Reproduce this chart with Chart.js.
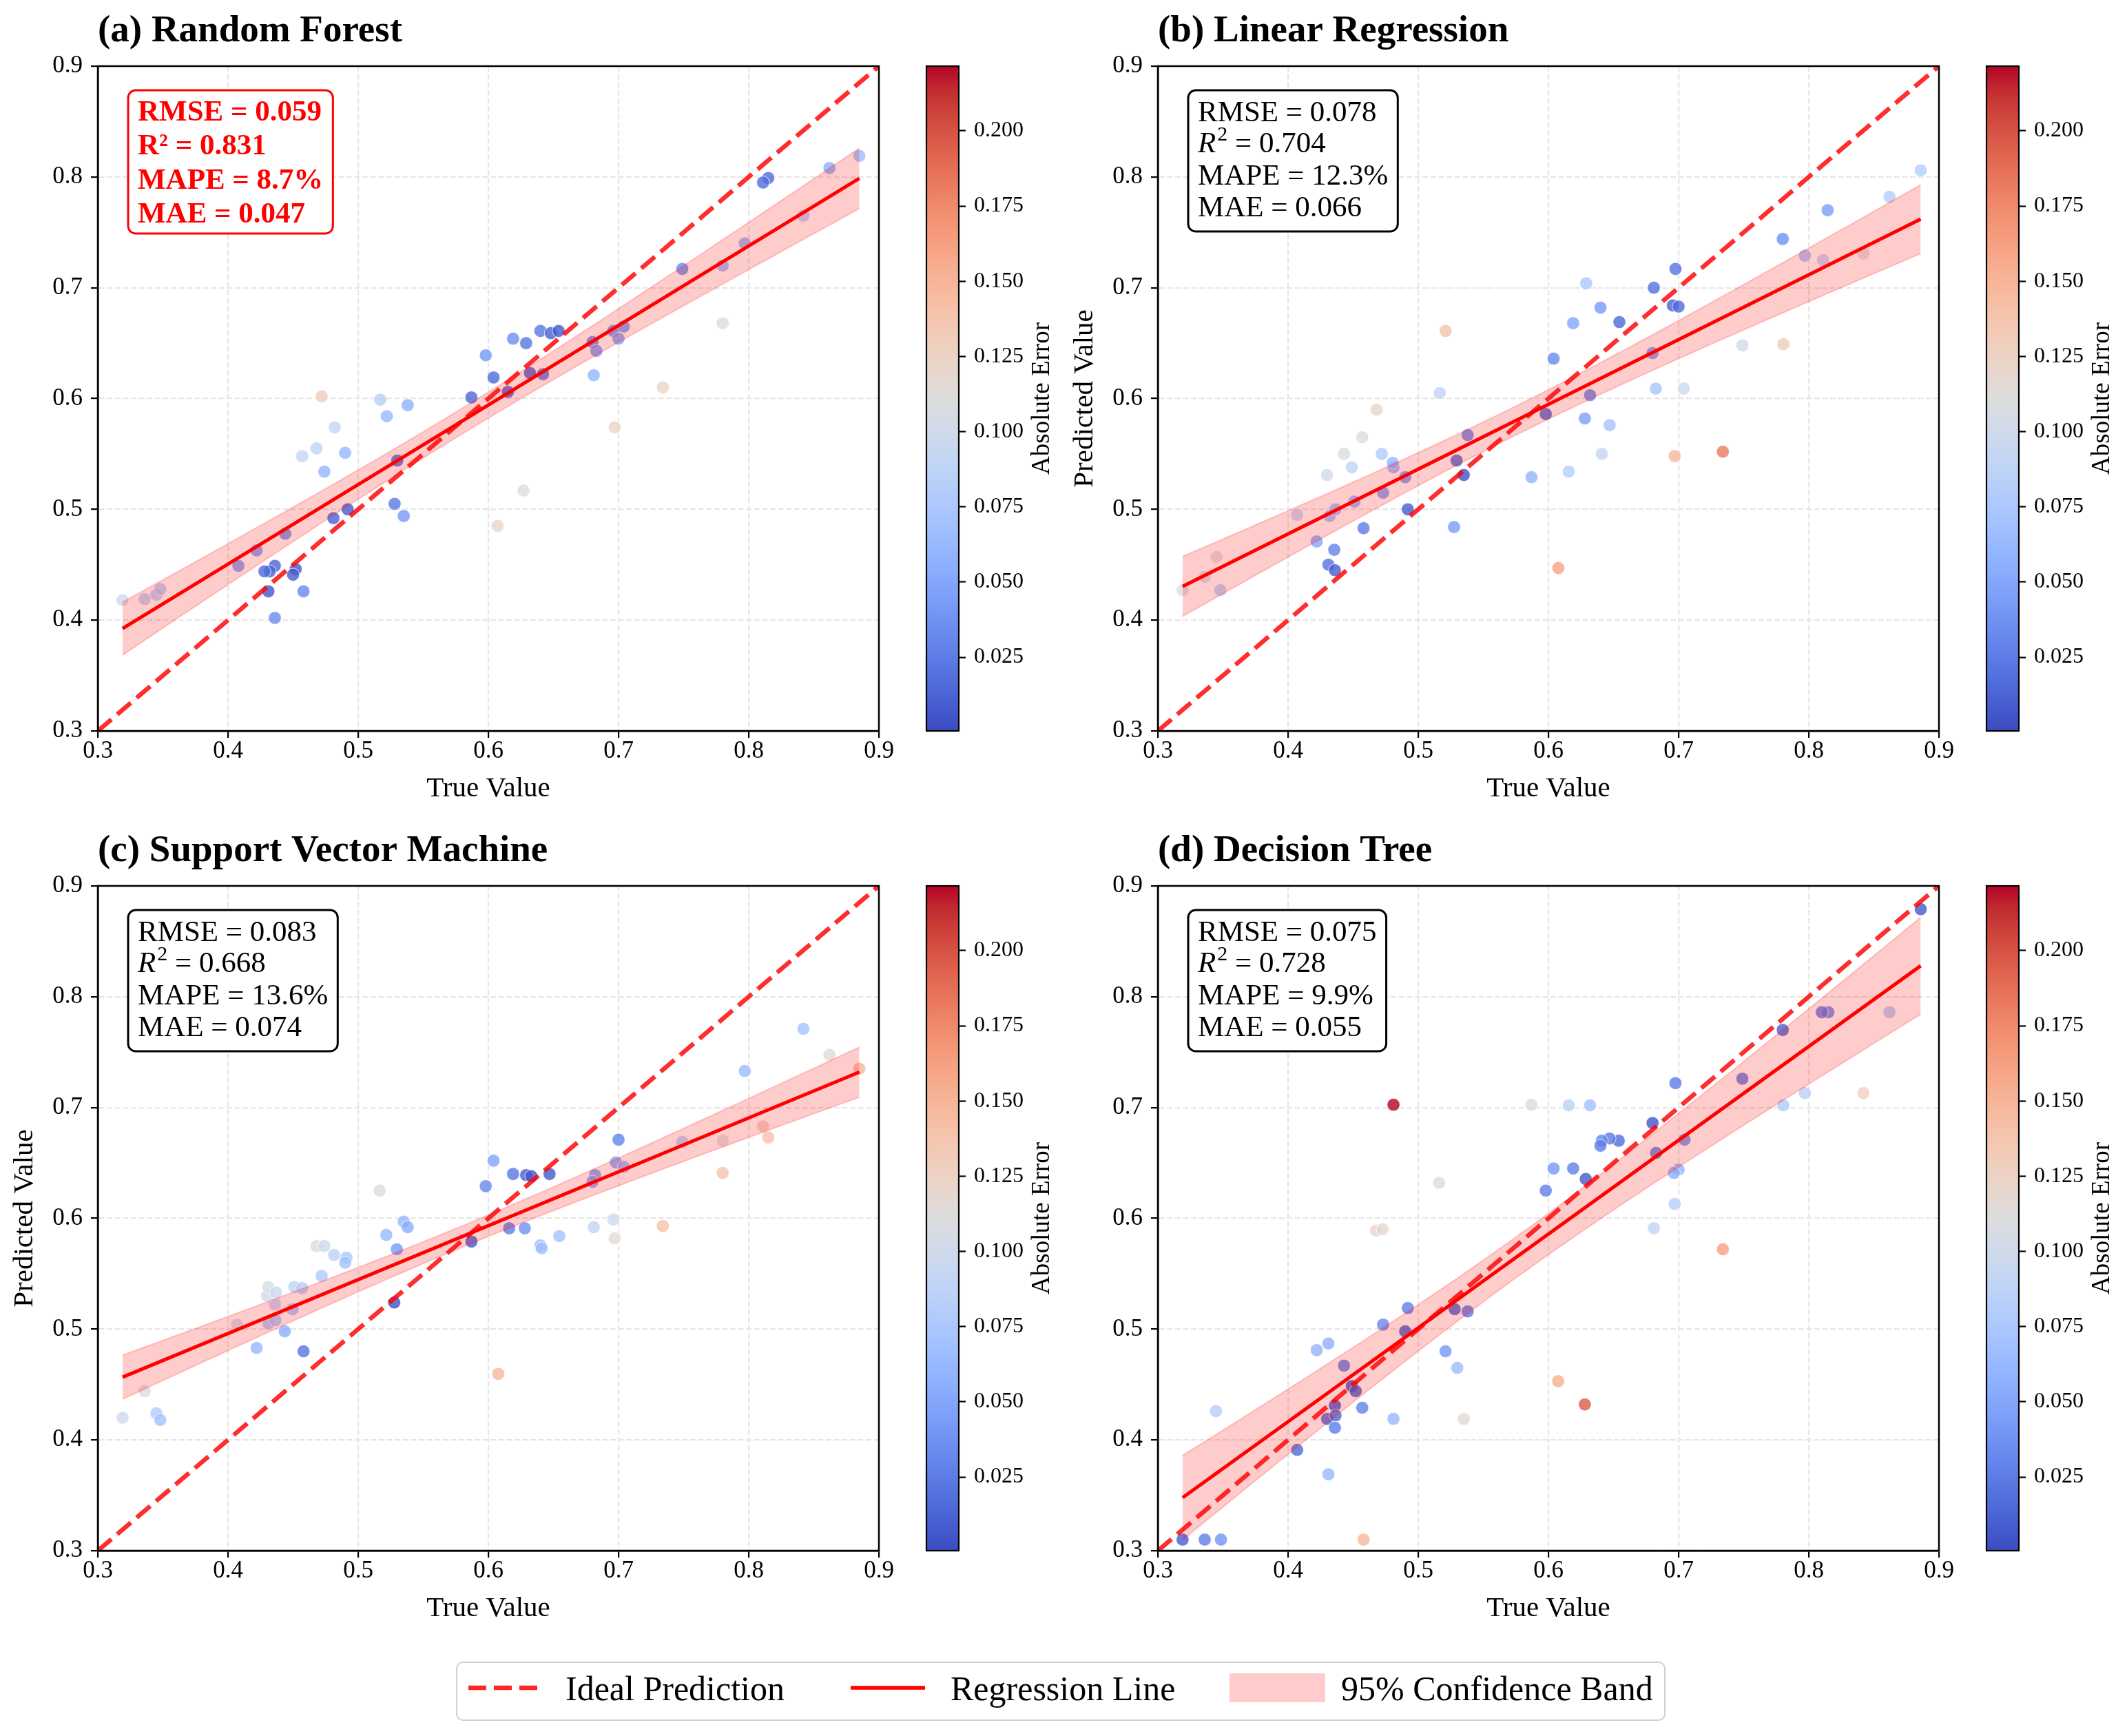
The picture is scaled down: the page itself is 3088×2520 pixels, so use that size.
<!DOCTYPE html>
<html>
<head>
<meta charset="utf-8">
<script src="https://cdn.jsdelivr.net/npm/chart.js@4.4.0/dist/chart.umd.min.js"></script>
<style>
  html, body { margin: 0; padding: 0; background: #fff; }
  #page { position: relative; width: 3088px; height: 2520px; background: #fff; overflow: hidden;
          font-family: "Liberation Serif", "Times New Roman", serif; }
  canvas { position: absolute; }
  #legendBox { position: absolute; left: 662px; top: 2412px; width: 1756px; height: 86px; box-sizing: border-box;
               border: 2.5px solid #d0d0d0; border-radius: 10px; background: #fff; }
  .ltext { position: absolute; top: 2426px; font-size: 50px; line-height: 50px; color: #000; white-space: nowrap; }
  .lsvg { position: absolute; }
</style>
</head>
<body>
<div id="page">
  <canvas id="panelA" width="1330" height="1230" style="left:0px;top:0px;width:1330px;height:1230px"></canvas>
  <canvas id="cbarA" width="220" height="1230" style="left:1330px;top:0px;width:220px;height:1230px"></canvas>
  <canvas id="panelB" width="1330" height="1230" style="left:1539px;top:0px;width:1330px;height:1230px"></canvas>
  <canvas id="cbarB" width="220" height="1230" style="left:2869px;top:0px;width:220px;height:1230px"></canvas>
  <canvas id="panelC" width="1330" height="1230" style="left:0px;top:1190px;width:1330px;height:1230px"></canvas>
  <canvas id="cbarC" width="220" height="1230" style="left:1330px;top:1190px;width:220px;height:1230px"></canvas>
  <canvas id="panelD" width="1330" height="1230" style="left:1539px;top:1190px;width:1330px;height:1230px"></canvas>
  <canvas id="cbarD" width="220" height="1230" style="left:2869px;top:1190px;width:220px;height:1230px"></canvas>

  <div id="legendBox"></div>
  <svg class="lsvg" style="left:680px;top:2440px" width="102" height="20">
    <line x1="0" y1="10" x2="102" y2="10" stroke="rgba(255,0,0,0.85)" stroke-width="6.5" stroke-dasharray="26 11"/>
  </svg>
  <div class="ltext" id="lt0" style="left:821px"></div>
  <svg class="lsvg" style="left:1235px;top:2440px" width="108" height="20">
    <line x1="0" y1="10" x2="108" y2="10" stroke="#ff0000" stroke-width="5.5"/>
  </svg>
  <div class="ltext" id="lt1" style="left:1380px"></div>
  <svg class="lsvg" style="left:1785px;top:2429px" width="139" height="42">
    <rect x="0" y="0" width="139" height="42" fill="rgba(255,0,0,0.2)"/>
  </svg>
  <div class="ltext" id="lt2" style="left:1947px"></div>
</div>

<script>
// ---------------- DATA ----------------
const axisTicks = [0.3, 0.4, 0.5, 0.6, 0.7, 0.8, 0.9];
const colorbarTicks = [0.025, 0.050, 0.075, 0.100, 0.125, 0.150, 0.175, 0.200];
const panelTitles = ['(a) Random Forest', '(b) Linear Regression', '(c) Support Vector Machine', '(d) Decision Tree'];
const legendLabels = ['Ideal Prediction', 'Regression Line', '95% Confidence Band'];
const xAxisLabel = 'True Value';
const yAxisLabel = 'Predicted Value';
const colorbarLabel = 'Absolute Error';

const statsRF  = ['RMSE = 0.059', 'R² = 0.831', 'MAPE = 8.7%',  'MAE = 0.047'];
const statsLR  = ['RMSE = 0.078', 'R² = 0.704', 'MAPE = 12.3%', 'MAE = 0.066'];
const statsSVM = ['RMSE = 0.083', 'R² = 0.668', 'MAPE = 13.6%', 'MAE = 0.074'];
const statsDT  = ['RMSE = 0.075', 'R² = 0.728', 'MAPE = 9.9%',  'MAE = 0.055'];

const trueRF = [0.319,0.336,0.345,0.348,0.408,0.422,0.444,0.436,0.432,0.428,0.452,0.450,0.431,0.458,0.436,0.481,0.492,0.530,0.528,0.535,0.472,0.517,0.538,0.522,0.482,0.468,0.457,0.490,0.474,0.598,0.604,0.587,0.615,0.607,0.627,0.885,0.862,0.815,0.811,0.842,0.797,0.780,0.749,0.780,0.734,0.697,0.681,0.680,0.683,0.696,0.704,0.700,0.640,0.648,0.654,0.619,0.629,0.632,0.642];
const predRF = [0.418,0.419,0.423,0.428,0.449,0.463,0.478,0.449,0.444,0.444,0.446,0.441,0.426,0.426,0.402,0.492,0.500,0.544,0.505,0.494,0.602,0.599,0.594,0.584,0.574,0.555,0.548,0.551,0.534,0.639,0.619,0.601,0.606,0.485,0.517,0.819,0.808,0.799,0.795,0.765,0.740,0.720,0.717,0.668,0.610,0.574,0.621,0.651,0.643,0.661,0.665,0.654,0.661,0.659,0.661,0.654,0.650,0.623,0.622];

const trueLR = [0.319,0.336,0.345,0.348,0.407,0.422,0.432,0.4365,0.4355,0.431,0.436,0.451,0.458,0.473,0.490,0.481,0.4805,0.492,0.472,0.449,0.443,0.457,0.430,0.468,0.521,0.5165,0.538,0.5295,0.535,0.5275,0.587,0.598,0.886,0.862,0.8145,0.842,0.811,0.797,0.780,0.7805,0.749,0.734,0.697,0.704,0.6825,0.680,0.681,0.6976,0.6956,0.700,0.6545,0.640,0.629,0.619,0.604,0.632,0.628,0.647,0.641,0.6156,0.6076];
const predLR = [0.427,0.439,0.457,0.427,0.495,0.471,0.494,0.500,0.4635,0.450,0.445,0.507,0.483,0.515,0.529,0.538,0.542,0.500,0.550,0.538,0.550,0.565,0.531,0.590,0.661,0.605,0.567,0.544,0.531,0.484,0.529,0.586,0.806,0.782,0.770,0.731,0.725,0.729,0.744,0.649,0.648,0.552,0.548,0.609,0.609,0.641,0.700,0.717,0.684,0.683,0.669,0.682,0.704,0.668,0.636,0.603,0.582,0.576,0.550,0.534,0.447];

const trueSVM = [0.319,0.336,0.345,0.348,0.407,0.422,0.431,0.4365,0.436,0.430,0.431,0.437,0.4436,0.4496,0.451,0.457,0.458,0.468,0.474,0.4815,0.491,0.490,0.472,0.5165,0.5216,0.535,0.538,0.5297,0.5277,0.587,0.598,0.885,0.862,0.842,0.797,0.811,0.815,0.780,0.780,0.749,0.734,0.700,0.698,0.704,0.682,0.680,0.696,0.697,0.681,0.6545,0.640,0.641,0.628,0.616,0.604,0.619,0.629,0.633,0.647,0.6076];
const predSVM = [0.420,0.444,0.424,0.418,0.504,0.483,0.505,0.508,0.5225,0.530,0.538,0.533,0.498,0.518,0.538,0.537,0.480,0.575,0.575,0.567,0.5645,0.560,0.548,0.625,0.585,0.597,0.592,0.572,0.524,0.579,0.629,0.735,0.7475,0.771,0.733,0.683,0.673,0.670,0.641,0.669,0.593,0.671,0.6505,0.6465,0.639,0.633,0.599,0.582,0.592,0.584,0.5755,0.573,0.591,0.591,0.652,0.640,0.639,0.638,0.640,0.4596];

const trueDT = [0.319,0.336,0.3485,0.3446,0.407,0.431,0.422,0.431,0.443,0.449,0.452,0.436,0.430,0.4365,0.436,0.457,0.458,0.481,0.473,0.492,0.490,0.481,0.4675,0.4726,0.516,0.528,0.538,0.521,0.530,0.535,0.587,0.598,0.886,0.862,0.815,0.810,0.780,0.797,0.842,0.7805,0.749,0.734,0.6976,0.7046,0.6827,0.680,0.700,0.6964,0.697,0.681,0.654,0.647,0.641,0.640,0.6287,0.619,0.604,0.6156,0.632,0.6075,0.628];
const predDT = [0.310,0.310,0.310,0.426,0.391,0.369,0.481,0.487,0.467,0.4485,0.444,0.431,0.419,0.422,0.411,0.429,0.310,0.419,0.504,0.519,0.498,0.7025,0.589,0.590,0.632,0.518,0.516,0.480,0.465,0.419,0.7025,0.625,0.879,0.786,0.786,0.786,0.770,0.713,0.713,0.702,0.726,0.572,0.722,0.671,0.659,0.686,0.644,0.641,0.613,0.591,0.670,0.672,0.670,0.6655,0.6355,0.645,0.645,0.702,0.702,0.453,0.432];

// ---------------- STYLE HELPERS ----------------
const FONT = '"Liberation Serif", "Times New Roman", serif';
Chart.defaults.font.family = FONT;
Chart.defaults.color = '#000';

const coolwarmStops = [[59,76,192],[68,90,204],[77,104,215],[87,117,225],[98,130,234],[108,142,241],[119,154,247],[130,165,251],[141,176,254],[152,185,255],[163,194,255],[174,201,253],[184,208,249],[194,213,244],[204,217,238],[213,219,230],[221,221,221],[229,216,209],[236,211,197],[241,204,185],[245,196,173],[247,187,160],[247,177,148],[247,166,135],[244,154,123],[241,141,111],[236,127,99],[229,112,88],[222,96,77],[213,80,66],[203,62,56],[192,40,47],[180,4,38]];
function coolwarm(t) {
  t = Math.max(0, Math.min(1, t));
  const p = t * (coolwarmStops.length - 1);
  const i = Math.min(Math.floor(p), coolwarmStops.length - 2);
  const f = p - i;
  const a = coolwarmStops[i], b = coolwarmStops[i + 1];
  return a.map((v, k) => Math.round(v + (b[k] - v) * f));
}

const panels = [
  {id: 'panelA', cb: 'cbarA', tv: trueRF,  pv: predRF,  title: panelTitles[0], stats: statsRF,  bold: true,  yTitle: false},
  {id: 'panelB', cb: 'cbarB', tv: trueLR,  pv: predLR,  title: panelTitles[1], stats: statsLR,  bold: false, yTitle: true},
  {id: 'panelC', cb: 'cbarC', tv: trueSVM, pv: predSVM, title: panelTitles[2], stats: statsSVM, bold: false, yTitle: true},
  {id: 'panelD', cb: 'cbarD', tv: trueDT,  pv: predDT,  title: panelTitles[3], stats: statsDT,  bold: false, yTitle: false}
];

// shared colour normalisation over all absolute errors
let allErr = [];
panels.forEach(p => p.tv.forEach((t, i) => allErr.push(Math.abs(p.pv[i] - t))));
const vmin = Math.min(...allErr), vmax = Math.max(...allErr);

function regression(xs, ys) {
  const n = xs.length;
  const mx = xs.reduce((a, b) => a + b, 0) / n;
  const my = ys.reduce((a, b) => a + b, 0) / n;
  let sxx = 0, sxy = 0;
  for (let i = 0; i < n; i++) { sxx += (xs[i] - mx) ** 2; sxy += (xs[i] - mx) * (ys[i] - my); }
  const b = sxy / sxx, a = my - b * mx;
  let sse = 0;
  for (let i = 0; i < n; i++) sse += (ys[i] - (a + b * xs[i])) ** 2;
  const s = Math.sqrt(sse / (n - 2));
  const df = n - 2, z = 1.959964;
  const t = z + (z ** 3 + z) / (4 * df) + (5 * z ** 5 + 16 * z ** 3 + 3 * z) / (96 * df * df);
  const xmin = Math.min(...xs), xmax = Math.max(...xs);
  const line = [{x: xmin, y: a + b * xmin}, {x: xmax, y: a + b * xmax}];
  const upper = [], lower = [];
  const N = 100;
  for (let k = 0; k < N; k++) {
    const x = xmin + (xmax - xmin) * k / (N - 1);
    const yh = a + b * x;
    const se = s * Math.sqrt(1 / n + (x - mx) ** 2 / sxx);
    upper.push({x, y: yh + t * se});
    lower.push({x, y: yh - t * se});
  }
  return {line, upper, lower};
}

function roundRectPath(ctx, x, y, w, h, r) {
  ctx.beginPath();
  ctx.moveTo(x + r, y);
  ctx.lineTo(x + w - r, y); ctx.arcTo(x + w, y, x + w, y + r, r);
  ctx.lineTo(x + w, y + h - r); ctx.arcTo(x + w, y + h, x + w - r, y + h, r);
  ctx.lineTo(x + r, y + h); ctx.arcTo(x, y + h, x, y + h - r, r);
  ctx.lineTo(x, y + r); ctx.arcTo(x, y, x + r, y, r);
  ctx.closePath();
}

function drawStats(ctx, area, lines, bold) {
  const fs = 43;
  const base = (bold ? 'bold ' : '') + fs + 'px ' + FONT;
  const ital = (bold ? 'bold ' : '') + 'italic ' + fs + 'px ' + FONT;
  const sup = (bold ? 'bold ' : '') + Math.round(fs * 0.7) + 'px ' + FONT;
  const color = bold ? '#ff0000' : '#000000';
  ctx.save();
  const widths = lines.map(l => {
    if (!bold && l.startsWith('R²')) {
      ctx.font = ital; let w = ctx.measureText('R').width + 2;
      ctx.font = sup; w += ctx.measureText('2').width;
      ctx.font = base; w += ctx.measureText(l.slice(2)).width;
      return w;
    }
    ctx.font = base; return ctx.measureText(l).width;
  });
  const pad = 14;
  const bx = area.left + 44, by = area.top + 35;
  const bw = Math.max(...widths) + 2 * pad;
  const bh = bold ? 208 : 205;
  const baselines = bold ? [44, 93, 143, 192] : [45, 90, 137, 183];
  roundRectPath(ctx, bx, by, bw, bh, 11);
  ctx.fillStyle = '#ffffff';
  ctx.fill();
  ctx.lineWidth = 3;
  ctx.strokeStyle = color;
  ctx.stroke();
  ctx.fillStyle = color;
  ctx.textBaseline = 'alphabetic';
  ctx.textAlign = 'left';
  lines.forEach((l, i) => {
    const y = by + baselines[i];
    let x = bx + pad;
    if (!bold && l.startsWith('R²')) {
      ctx.font = ital; ctx.fillText('R', x, y); x += ctx.measureText('R').width + 2;
      ctx.font = sup; ctx.fillText('2', x, y - 17); x += ctx.measureText('2').width;
      ctx.font = base; ctx.fillText(l.slice(2), x, y);
    } else {
      ctx.font = base; ctx.fillText(l, x, y);
    }
  });
  ctx.restore();
}

const decorPlugin = {
  id: 'decor',
  afterDraw(chart, args, opts) {
    const {ctx, chartArea: a} = chart;
    ctx.save();
    ctx.strokeStyle = '#000';
    ctx.lineWidth = 2.5;
    ctx.strokeRect(a.left, a.top, a.right - a.left, a.bottom - a.top);
    ctx.font = 'bold 55px ' + FONT;
    ctx.fillStyle = '#000';
    ctx.textAlign = 'left';
    ctx.textBaseline = 'alphabetic';
    ctx.fillText(opts.title, a.left, a.top - 36);
    ctx.restore();
    drawStats(ctx, a, opts.stats, opts.bold);
  }
};

const colorbarPlugin = {
  id: 'cbar',
  beforeDatasetsDraw(chart) {
    const {ctx, chartArea: a, scales} = chart;
    const ys = scales.y;
    const y0 = ys.getPixelForValue(vmin), y1 = ys.getPixelForValue(vmax);
    const g = ctx.createLinearGradient(0, y0, 0, y1);
    coolwarmStops.forEach((c, i) => g.addColorStop(i / (coolwarmStops.length - 1), `rgb(${c[0]},${c[1]},${c[2]})`));
    ctx.save();
    ctx.fillStyle = g;
    ctx.fillRect(a.left, y1, a.right - a.left, y0 - y1);
    ctx.strokeStyle = '#000';
    ctx.lineWidth = 2.2;
    ctx.strokeRect(a.left, y1, a.right - a.left, y0 - y1);
    ctx.translate(183, (a.top + a.bottom) / 2);
    ctx.rotate(-Math.PI / 2);
    ctx.font = '37px ' + FONT;
    ctx.fillStyle = '#000';
    ctx.textAlign = 'center';
    ctx.textBaseline = 'middle';
    ctx.fillText(colorbarLabel, 0, 0);
    ctx.restore();
  }
};

function axisCommon(isX, showTitle, titleText) {
  return {
    type: 'linear', min: 0.3, max: 0.9,
    afterBuildTicks: s => { s.ticks = axisTicks.map(v => ({value: v})); },
    afterFit: s => { if (isX) s.height = 109; else s.width = 130; },
    ticks: {
      font: {size: 35, lineHeight: 1}, color: '#000', padding: isX ? 2 : 12,
      callback: v => Number(v).toFixed(1), autoSkip: false, maxRotation: 0
    },
    grid: {color: '#e6e6e6', lineWidth: 2.2, drawTicks: true, tickLength: 10, tickColor: '#000', tickWidth: 2.2},
    border: {display: true, color: '#000', width: 2.5, dash: [8, 3.6]},
    title: {display: showTitle, text: titleText, font: {size: 41, lineHeight: 1.2}, color: '#000', padding: 0}
  };
}

panels.forEach(p => {
  const reg = regression(p.tv, p.pv);
  const pts = p.tv.map((t, i) => ({x: t, y: p.pv[i]}));
  const colors = p.tv.map((t, i) => {
    const c = coolwarm((Math.abs(p.pv[i] - t) - vmin) / (vmax - vmin));
    return `rgba(${c[0]},${c[1]},${c[2]},0.8)`;
  });
  new Chart(document.getElementById(p.id), {
    type: 'scatter',
    data: {
      datasets: [
        {type: 'line', label: legendLabels[0], data: [{x: axisTicks[0], y: axisTicks[0]}, {x: axisTicks[axisTicks.length - 1], y: axisTicks[axisTicks.length - 1]}],
         borderColor: 'rgba(255,0,0,0.82)', borderWidth: 6.5, borderDash: [26, 11], pointRadius: 0, fill: false, order: 0},
        {type: 'line', label: legendLabels[1], data: reg.line, borderColor: '#ff0000', borderWidth: 5, pointRadius: 0, fill: false, order: 1},
        {type: 'line', label: legendLabels[2], data: reg.upper, borderColor: 'rgba(255,0,0,0.2)', borderWidth: 2, backgroundColor: 'rgba(255,0,0,0.2)',
         pointRadius: 0, fill: '+1', tension: 0, order: 2},
        {type: 'line', label: 'lower', data: reg.lower, borderColor: 'rgba(255,0,0,0.2)', borderWidth: 2, pointRadius: 0, fill: false, tension: 0, order: 2},
        {type: 'scatter', label: 'points', data: pts, backgroundColor: colors, borderColor: 'rgba(255,255,255,0.8)', borderWidth: 1,
         pointRadius: 9.3, pointHoverRadius: 9.3, order: 3}
      ]
    },
    options: {
      responsive: false, animation: false, devicePixelRatio: 1,
      layout: {padding: {left: 12, top: 96, right: 54, bottom: 60}},
      plugins: {legend: {display: false}, tooltip: {enabled: false}, decor: {title: p.title, stats: p.stats, bold: p.bold}},
      scales: {
        x: axisCommon(true, true, xAxisLabel),
        y: axisCommon(false, p.yTitle, yAxisLabel)
      }
    },
    plugins: [decorPlugin]
  });

  new Chart(document.getElementById(p.cb), {
    type: 'scatter',
    data: {datasets: []},
    options: {
      responsive: false, animation: false, devicePixelRatio: 1,
      layout: {padding: {left: 15, top: 96, right: 58, bottom: 169}},
      plugins: {legend: {display: false}, tooltip: {enabled: false}},
      scales: {
        x: {display: false, min: 0, max: 1},
        y: {
          position: 'right', min: vmin, max: vmax,
          afterBuildTicks: s => { s.ticks = colorbarTicks.map(v => ({value: v})); },
          afterFit: s => { s.width = 100; },
          ticks: {font: {size: 32, lineHeight: 1}, color: '#000', padding: 12, callback: v => Number(v).toFixed(3), autoSkip: false},
          grid: {drawOnChartArea: false, drawTicks: true, tickLength: 10, tickColor: '#000', tickWidth: 2.2},
          border: {display: false}
        }
      }
    },
    plugins: [colorbarPlugin]
  });
});

document.getElementById('lt0').textContent = legendLabels[0];
document.getElementById('lt1').textContent = legendLabels[1];
document.getElementById('lt2').textContent = legendLabels[2];
</script>
</body>
</html>
